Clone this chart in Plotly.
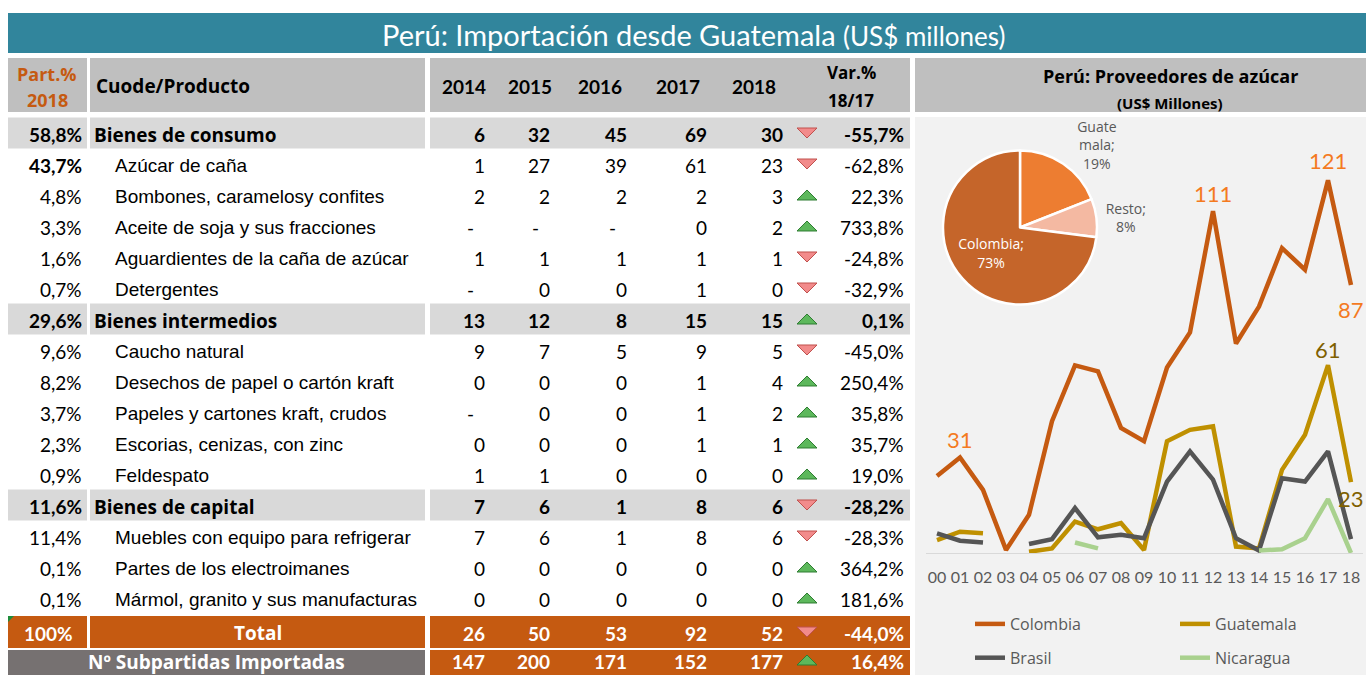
import plotly.graph_objects as go

W, H = 1371, 675

# ---------------- data ----------------
title_main = "Perú: Importación desde Guatemala"
title_unit = "(US$ millones)"
col_part = ["Part.%", "2018"]
col_prod = "Cuode/Producto"
years = ["2014", "2015", "2016", "2017", "2018"]
col_var = ["Var.%", "18/17"]

part_pct = [58.8, 43.7, 4.8, 3.3, 1.6, 0.7, 29.6, 9.6, 8.2, 3.7, 2.3, 0.9, 11.6, 11.4, 0.1, 0.1]
productos = ["Bienes de consumo", "Azúcar de caña", "Bombones, caramelosy confites",
             "Aceite de soja y sus fracciones", "Aguardientes de la caña de azúcar", "Detergentes",
             "Bienes intermedios", "Caucho natural", "Desechos de papel o cartón kraft",
             "Papeles y cartones kraft, crudos", "Escorias, cenizas, con zinc", "Feldespato",
             "Bienes de capital", "Muebles con equipo para refrigerar", "Partes de los electroimanes",
             "Mármol, granito y sus manufacturas"]
es_grupo = [True, False, False, False, False, False, True, False, False, False, False, False,
            True, False, False, False]
v2014 = [6, 1, 2, None, 1, None, 13, 9, 0, None, 0, 1, 7, 7, 0, 0]
v2015 = [32, 27, 2, None, 1, 0, 12, 7, 0, 0, 0, 1, 6, 6, 0, 0]
v2016 = [45, 39, 2, None, 1, 0, 8, 5, 0, 0, 0, 0, 1, 1, 0, 0]
v2017 = [69, 61, 2, 0, 1, 1, 15, 9, 1, 1, 1, 0, 8, 8, 0, 0]
v2018 = [30, 23, 3, 2, 1, 0, 15, 5, 4, 2, 1, 0, 6, 6, 0, 0]
var_pct = [-55.7, -62.8, 22.3, 733.8, -24.8, -32.9, 0.1, -45.0, 250.4, 35.8, 35.7, 19.0,
           -28.2, -28.3, 364.2, 181.6]

total_label = "Total"
total_part = 100
total_vals = [26, 50, 53, 92, 52]
total_var = -44.0
subp_label = "Nº Subpartidas Importadas"
subp_vals = [147, 200, 171, 152, 177]
subp_var = 16.4

chart_title = "Perú: Proveedores de azúcar"
chart_sub = "(US$ Millones)"
anios = ["00", "01", "02", "03", "04", "05", "06", "07", "08", "09",
         "10", "11", "12", "13", "14", "15", "16", "17", "18"]
colombia = [25, 31, 20.5, 1, 12.4, 42.8, 60.9, 59, 40.6, 36.3, 60.2, 71.6, 111, 68, 80, 99, 92, 121, 87]
guatemala = [4.2, 6.9, 6.4, None, 0.4, 1.5, 10.2, 7.7, 9.7, 1.0, 36.3, 40, 41.1, 2.1, 1.5, 27, 38.4, 61, 23]
brasil = [6.4, 4.0, 3.4, None, 2.9, 4.5, 14.6, 5.1, 5.9, 4.8, 23.2, 33, 23.8, 4.8, 0.8, 24.3, 23.2, 33, 4.5]
nicaragua = [None, None, None, None, None, None, 3.4, 1.5, None, None,
             None, None, None, None, 0.8, 1.2, 4.8, 17.5, 0]

pie_labels = ["Guatemala", "Resto", "Colombia"]
pie_text_labels = ["Guate<br>mala", "Resto", "Colombia"]
pie_values = [19, 8, 73]

# ---------------- styles ----------------
NUMF = "Lato"
WORDF = "Open Sans"
ARI = "Liberation Sans"
TEAL = "#31859C"
HDR_GRAY = "#BFBFBF"
ROW_GRAY = "#D9D9D9"
ORANGE = "#C55A11"
DARK_GRAY = "#767171"
PANEL = "#F2F2F2"
DY = 1.5   # visual centring tweak for text


def X(px):
    return px / W


def Y(py):
    return 1 - py / H


def rect(x0, y0, x1, y1, color):
    return dict(type="rect", xref="paper", yref="paper", x0=X(x0), x1=X(x1), y0=Y(y1), y1=Y(y0),
                fillcolor=color, line=dict(width=0), layer="below")


def tri(xc, yc, up):
    w, h = 10, 5
    if up:
        pts = [(xc - w, yc + h), (xc + w, yc + h), (xc, yc - h)]
        fill, line = "#5DB85C", "#2F7D32"
    else:
        pts = [(xc - w, yc - h), (xc + w, yc - h), (xc, yc + h)]
        fill, line = "#F28B8B", "#C0504D"
    path = "M " + " L ".join(f"{X(a):.5f},{Y(b):.5f}" for a, b in pts) + " Z"
    return dict(type="path", xref="paper", yref="paper", path=path, fillcolor=fill,
                line=dict(color=line, width=1), layer="above")


def ann(x, y, text, size, color="#000000", family=NUMF, bold=False, xanchor="right"):
    return dict(x=X(x), y=Y(y + DY), xref="paper", yref="paper",
                text=f"<b>{text}</b>" if bold else text, showarrow=False,
                xanchor=xanchor, yanchor="middle",
                font=dict(family=family, size=size, color=color))


def fmt_pct(v):
    return f"{v:.1f}".replace(".", ",") + "%"


shapes = []
annotations = []

# title bar
shapes.append(rect(8, 13, 1366, 53, TEAL))
annotations.append(dict(x=X(693), y=Y(35), xref="paper", yref="paper", showarrow=False,
                        xanchor="center", yanchor="middle",
                        text=f"{title_main} <span style='font-size:26px'>{title_unit}</span>",
                        font=dict(family="Lato", size=29, color="white")))

# column geometry
PART = (8, 87)
PROD = (90, 425)
NUMS = (430, 910)
RIGHT = (915, 1366)
year_right = [485, 550, 627, 707, 783]
year_hdr_center = [464, 530, 600, 678, 754]
TRI_X = 807
VAR_RIGHT = 904
FS = 19      # numeric font size
FW = 19      # bold word font size
FN = 19      # product name font size

# header row
HT, HB = 58, 112
for c in (PART, PROD, NUMS, RIGHT):
    shapes.append(rect(c[0], HT, c[1], HB, HDR_GRAY))
annotations.append(ann(47, 72, col_part[0], 18, ORANGE, WORDF, bold=True, xanchor="center"))
annotations.append(ann(47, 99, col_part[1], 18, ORANGE, WORDF, bold=True, xanchor="center"))
annotations.append(ann(94, 85, col_prod, FW, family=WORDF, bold=True, xanchor="left"))
for yc, yr in zip(year_hdr_center, years):
    annotations.append(ann(yc, 85, yr, FS, bold=True, xanchor="center"))
annotations.append(ann(851, 71, col_var[0], 17, family=WORDF, bold=True, xanchor="center"))
annotations.append(ann(851, 99, col_var[1], 17, family=WORDF, bold=True, xanchor="center"))

# right panel
shapes.append(rect(RIGHT[0], 117, RIGHT[1], 675, PANEL))
annotations.append(ann(1170, 74, chart_title, 18, family=WORDF, bold=True, xanchor="center"))
annotations.append(ann(1170, 101, chart_sub, 15, family=WORDF, bold=True, xanchor="center"))


def num_cells(yc, vals, var, color="#000000", bold=False):
    for xr, v in zip(year_right, vals):
        if v is None:
            annotations.append(ann(xr - 15, yc, "-", FS, color, bold=bold, xanchor="center"))
        else:
            annotations.append(ann(xr + 2, yc, str(v), FS, color, bold=bold))
    shapes.append(tri(TRI_X, yc, var > 0))
    annotations.append(ann(VAR_RIGHT + 2, yc, fmt_pct(var), FS, color, bold=bold))


# body rows
ROW0, RH = 117.5, 31
for i, name in enumerate(productos):
    top = ROW0 + RH * i
    yc = top + RH / 2
    grp = es_grupo[i]
    if grp:
        for c in (PART, PROD, NUMS):
            shapes.append(rect(c[0], top, c[1], top + RH, ROW_GRAY))
    annotations.append(ann(84, yc, fmt_pct(part_pct[i]), FS, bold=grp or i == 1))
    if grp:
        annotations.append(ann(92, yc, name, FW, family=WORDF, bold=True, xanchor="left"))
    else:
        annotations.append(ann(113, yc, name, FN, family=ARI, xanchor="left"))
    num_cells(yc, [v2014[i], v2015[i], v2016[i], v2017[i], v2018[i]], var_pct[i], bold=grp)

# total row
TT, TB = 616, 648
for c in (PART, PROD, NUMS):
    shapes.append(rect(c[0], TT, c[1], TB, ORANGE))
shapes.append(dict(type="path", xref="paper", yref="paper",
                   path=f"M {X(8)},{Y(616)} L {X(14)},{Y(616)} L {X(8)},{Y(622)} Z",
                   fillcolor="#1E8C3A", line=dict(width=0), layer="above"))
annotations.append(ann(48, 632, f"{total_part}%", FS, "white", bold=True, xanchor="center"))
annotations.append(ann(258, 631, total_label, FW, "white", WORDF, bold=True, xanchor="center"))
num_cells(632, total_vals, total_var, "white", True)

# subpartidas row (text kept fully inside the picture)
ST, SB = 650, 684
SUB_Y = 660
shapes.append(rect(PART[0], ST, PROD[1], SB, DARK_GRAY))
shapes.append(rect(NUMS[0], ST, NUMS[1], SB, ORANGE))
annotations.append(ann(217, SUB_Y, subp_label, FW, "white", WORDF, bold=True, xanchor="center"))
num_cells(SUB_Y, subp_vals, subp_var, "white", True)

# ---------------- line chart ----------------
xs = list(range(len(anios)))
series = [("Colombia", colombia, "#C55A11", "legend"),
          ("Guatemala", guatemala, "#BF9000", "legend2"),
          ("Brasil", brasil, "#555555", "legend"),
          ("Nicaragua", nicaragua, "#A9D18E", "legend2")]

fig = go.Figure()
for name, vals, col, lg in series:
    fig.add_trace(go.Scatter(x=xs, y=vals, mode="lines", name=name, legend=lg, legendgroup=name,
                             line=dict(color=col, width=4.5), connectgaps=False,
                             hoverinfo="skip"))

label_specs = [(colombia, 1, 18, "#F47A1F"), (colombia, 12, 18, "#F47A1F"),
               (colombia, 17, 20, "#F47A1F"), (colombia, 18, -24, "#F47A1F"),
               (guatemala, 17, 16, "#7F6000"), (guatemala, 18, -16, "#7F6000")]
for vals, idx, shift, col in label_specs:
    annotations.append(dict(x=idx, y=vals[idx], xref="x", yref="y", text=f"{vals[idx]:.0f}",
                            showarrow=False, yshift=shift, xanchor="center", yanchor="middle",
                            font=dict(family="Lato", size=22, color=col)))

Y_BASE, Y_TOP = 553, 140
PX_PER_UNIT = 3.08

fig.add_trace(go.Pie(labels=pie_labels, values=pie_values, sort=False, direction="clockwise",
                     rotation=0,
                     text=[f"{t};<br>{v}%" for t, v in zip(pie_text_labels, pie_values)],
                     textinfo="text", textposition=["outside", "outside", "inside"],
                     insidetextfont=dict(color="white", size=14, family=WORDF),
                     outsidetextfont=dict(color="#595959", size=14, family=WORDF),
                     marker=dict(colors=["#ED7D31", "#F4B9A2", "#C5652A"],
                                 line=dict(color="white", width=2.5)),
                     domain=dict(x=[X(943), X(1097)], y=[Y(305), Y(150)]),
                     showlegend=False, hoverinfo="skip"))

legend_common = dict(yanchor="bottom", y=0, xanchor="left", orientation="v",
                     bgcolor="rgba(0,0,0,0)", traceorder="grouped", tracegroupgap=10,
                     font=dict(family=WORDF, size=16, color="#595959"))

fig.update_layout(
    width=W, height=H, margin=dict(l=0, r=0, t=0, b=0, autoexpand=False),
    paper_bgcolor="white", plot_bgcolor="rgba(0,0,0,0)",
    font=dict(family=NUMF),
    shapes=shapes, annotations=annotations,
    xaxis=dict(domain=[X(925.5), X(1362.5)], range=[-0.5, 18.5], tickmode="array",
               tickvals=xs, ticktext=anios, showgrid=False, zeroline=False,
               showline=True, linecolor="#D9D9D9", linewidth=1, ticks="",
               tickfont=dict(family="Lato", size=16, color="#595959"), ticklabelstandoff=10,
               fixedrange=True),
    yaxis=dict(domain=[Y(Y_BASE), Y(Y_TOP)], range=[0, (Y_BASE - Y_TOP) / PX_PER_UNIT],
               visible=False, fixedrange=True),
    legend=dict(x=X(970), **legend_common),
    legend2=dict(x=X(1175), **legend_common),
)

fig.write_html("out.html", config={"displayModeBar": False},
               post_script="document.body.style.margin='0';document.body.style.overflow='hidden';")
